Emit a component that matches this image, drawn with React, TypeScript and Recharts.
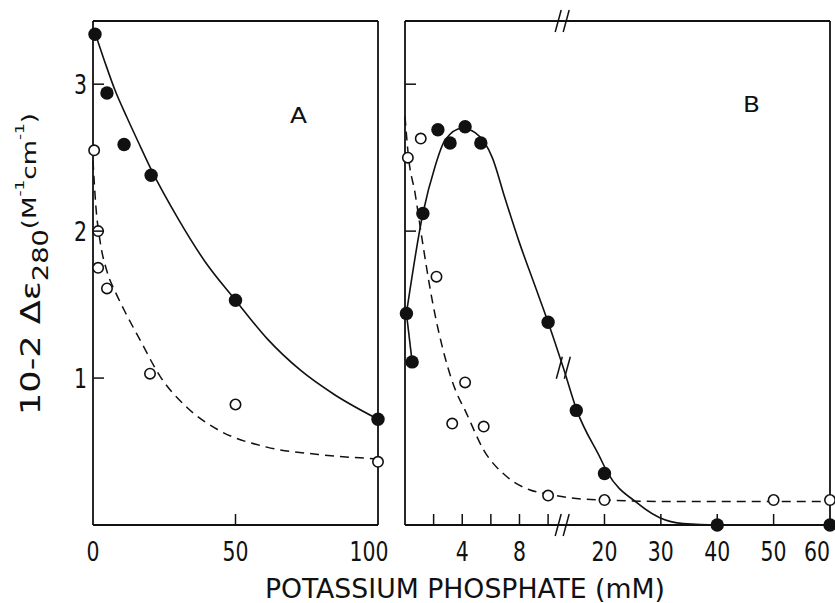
import React from "react";
import { ComposedChart, Line, Scatter, XAxis, YAxis, ReferenceDot, Label } from "recharts";

const FONT = '"DejaVu Sans Condensed", "Liberation Sans Narrow", "DejaVu Sans", sans-serif';
const INK = "#111";
const W = 835;
const H = 603;
const Y_MAX = 3.43;
const yTicksLeftA = [1, 2, 3];
const yTicksRightA = [2, 3];
const yTicksLeftB = [2, 3];
const yTicksRightB = [1, 2, 3];

// panel A, 0-100 mM
const aTicks = [0, 50, 100];
const aTopTicks = [50];
const aFilled = [
  { x: 0.7, y: 3.34 }, { x: 4.9, y: 2.94 }, { x: 10.9, y: 2.59 },
  { x: 20.4, y: 2.38 }, { x: 50, y: 1.53 }, { x: 100, y: 0.72 },
];
const aOpen = [
  { x: 0.4, y: 2.55 }, { x: 1.8, y: 2.0 }, { x: 1.8, y: 1.75 }, { x: 4.9, y: 1.61 },
  { x: 20, y: 1.03 }, { x: 50, y: 0.82 }, { x: 100, y: 0.43 },
];
const aSolid = [
  { x: 0.5, y: 3.36 }, { x: 4, y: 3.16 }, { x: 7.7, y: 2.96 }, { x: 12, y: 2.77 },
  { x: 15.8, y: 2.61 }, { x: 20.4, y: 2.42 }, { x: 30, y: 2.08 }, { x: 39.4, y: 1.79 },
  { x: 50, y: 1.53 }, { x: 61, y: 1.27 }, { x: 73, y: 1.05 }, { x: 84.5, y: 0.89 }, { x: 100, y: 0.72 },
];
const aDashed = [
  { x: 0, y: 2.48 }, { x: 1, y: 2.17 }, { x: 2.5, y: 1.93 }, { x: 5, y: 1.72 },
  { x: 8, y: 1.58 }, { x: 11, y: 1.46 }, { x: 16.5, y: 1.26 }, { x: 23.6, y: 1.01 },
  { x: 33, y: 0.8 }, { x: 43.7, y: 0.65 }, { x: 61, y: 0.53 }, { x: 79, y: 0.48 }, { x: 100, y: 0.45 },
];

// panel B, 0-60 mM, axis broken after 10 mM
const bTicks = [0, 2, 4, 6, 8, 10, 20, 30, 40, 50, 60];
const bTopTicks = [2, 4, 6, 8, 10, 20, 30, 40, 50];
const bLabels = [4, 8, 20, 30, 40, 50, 60];
const bFilled = [
  { x: 0.1, y: 1.44 }, { x: 0.5, y: 1.11 }, { x: 1.25, y: 2.12 }, { x: 2.3, y: 2.69 },
  { x: 3.15, y: 2.6 }, { x: 4.2, y: 2.71 }, { x: 5.3, y: 2.6 }, { x: 10, y: 1.38 },
  { x: 15, y: 0.78 }, { x: 20, y: 0.35 }, { x: 40, y: 0 }, { x: 60, y: 0 },
];
const bOpen = [
  { x: 0.2, y: 2.5 }, { x: 1.1, y: 2.63 }, { x: 2.2, y: 1.69 }, { x: 3.3, y: 0.69 },
  { x: 4.2, y: 0.97 }, { x: 5.5, y: 0.67 }, { x: 10, y: 0.2 }, { x: 20, y: 0.17 },
  { x: 50, y: 0.17 }, { x: 60, y: 0.17 },
];
const bSolidStart = [{ x: 0.5, y: 1.11 }, { x: 0.1, y: 1.44 }];
const bSolid = [
  { x: 0.1, y: 1.44 }, { x: 1.25, y: 2.12 }, { x: 2.1, y: 2.44 }, { x: 2.8, y: 2.62 },
  { x: 4.0, y: 2.7 }, { x: 4.9, y: 2.67 }, { x: 6.1, y: 2.5 }, { x: 7.0, y: 2.22 },
  { x: 8.0, y: 1.92 }, { x: 9.0, y: 1.65 }, { x: 10, y: 1.38 }, { x: 12.7, y: 1.07 },
  { x: 15.1, y: 0.78 }, { x: 19.2, y: 0.46 }, { x: 20.5, y: 0.36 }, { x: 25.8, y: 0.15 },
  { x: 29.8, y: 0.05 }, { x: 34, y: 0.01 }, { x: 40, y: 0 }, { x: 60, y: 0 },
];
const bDashed = [
  { x: 0, y: 2.78 }, { x: 0.25, y: 2.5 }, { x: 0.7, y: 2.26 }, { x: 1.2, y: 1.94 },
  { x: 1.9, y: 1.53 }, { x: 2.8, y: 1.14 }, { x: 3.6, y: 0.9 }, { x: 4.2, y: 0.78 },
  { x: 5.5, y: 0.51 }, { x: 7.1, y: 0.33 }, { x: 8.7, y: 0.24 }, { x: 10, y: 0.21 },
  { x: 15, y: 0.18 }, { x: 20, y: 0.17 }, { x: 30, y: 0.16 }, { x: 60, y: 0.16 },
];
const bBreakMM = 12.5;
const bCurveBreak = { x: 12.7, y: 1.07 };

// 0-10 mM at full scale, 10-60 mM squeezed
const BREAK = 10;
const SQUEEZE = 0.394;
const toU = (mm: number) => (mm <= BREAK ? mm : BREAK + (mm - BREAK) * SQUEEZE);
const fromU = (u: number) => (u <= BREAK ? u : BREAK + (u - BREAK) / SQUEEZE);
const asU = (pts: { x: number; y: number }[]) => pts.map((p) => ({ x: toU(p.x), y: p.y }));

const LEN = 11;
const tickStroke = { stroke: INK, strokeWidth: 1.5 };
const axisLine = { stroke: INK, strokeWidth: 1.8 };

function Digits({ x, y, text, anchor = "middle" }: { x: number; y: number; text: string; anchor?: string }) {
  return (
    <text x={x} y={y} fill={INK} fontFamily={FONT} fontSize={27} textAnchor={anchor as any}
      textLength={text.length * 13} lengthAdjust="spacingAndGlyphs">{text}</text>
  );
}

const aBottomTick = ({ x, y, payload }: any) => {
  const v = payload.value;
  return (
    <g>
      {v > 0 && v < 100 && <line x1={x} y1={y} x2={x} y2={y - LEN} {...tickStroke} />}
      <Digits x={x + (v === 100 ? -9 : 0)} y={y + 36} text={String(v)} />
    </g>
  );
};

const bBottomTick = ({ x, y, payload }: any) => {
  const mm = Math.round(fromU(payload.value));
  return (
    <g>
      {mm > 0 && mm < 60 && <line x1={x} y1={y} x2={x} y2={y - LEN} {...tickStroke} />}
      {bLabels.includes(mm) && <Digits x={x + (mm === 60 ? -13 : 0)} y={y + 36} text={String(mm)} />}
    </g>
  );
};

const topTick = ({ x, y }: any) => <line x1={x} y1={y} x2={x} y2={y + LEN} {...tickStroke} />;
const rightTick = ({ x, y }: any) => <line x1={x} y1={y} x2={x - LEN} y2={y} {...tickStroke} />;
const leftMark = ({ x, y }: any) => <line x1={x} y1={y} x2={x + LEN} y2={y} {...tickStroke} />;
const leftTick = ({ x, y, payload }: any) => (
  <g>
    <line x1={x} y1={y} x2={x + LEN} y2={y} {...tickStroke} />
    <Digits x={x - 6} y={y + 9.5} text={String(payload.value)} anchor="end" />
  </g>
);

const filledDot = (p: any) => <circle cx={p.cx} cy={p.cy} r={6.7} fill={INK} />;
const openDot = (p: any) => <circle cx={p.cx} cy={p.cy} r={5.2} fill="#fff" stroke={INK} strokeWidth={1.6} />;
const slashes = (p: any) => (
  <g {...tickStroke}>
    <line x1={p.cx - 7} y1={p.cy + 11} x2={p.cx - 1} y2={p.cy - 11} />
    <line x1={p.cx + 1} y1={p.cy + 11} x2={p.cx + 7} y2={p.cy - 11} />
  </g>
);
const letter = (s: string) => (p: any) => (
  <text x={p.cx} y={p.cy + 7.5} fill={INK} fontFamily={FONT} fontSize={21} textAnchor="middle"
    textLength={17} lengthAdjust="spacingAndGlyphs">{s}</text>
);

const yTitle = ({ viewBox }: any) => {
  const x = viewBox.x - 52;
  const y = viewBox.y + viewBox.height / 2 - 9;
  return (
    <text x={x} y={y} transform={`rotate(-90, ${x}, ${y})`} fill={INK} fontFamily={FONT} fontSize={27}
      textAnchor="middle" textLength={302} lengthAdjust="spacingAndGlyphs">
      <tspan>10-2 Δε</tspan>
      <tspan fontSize={21} dy={8}>280</tspan>
      <tspan fontSize={20} dy={-12}>(M</tspan>
      <tspan fontSize={13} dy={-12}>-1</tspan>
      <tspan fontSize={20} dy={12}>cm</tspan>
      <tspan fontSize={13} dy={-12}>-1</tspan>
      <tspan fontSize={20} dy={12}>)</tspan>
    </text>
  );
};

const xTitle = () => (
  <text x={465} y={598} fill={INK} fontFamily={FONT} fontSize={27} textAnchor="middle"
    textLength={400} lengthAdjust="spacingAndGlyphs">POTASSIUM  PHOSPHATE  (mM)</text>
);

function PanelA() {
  return (
    <ComposedChart width={W} height={H} margin={{ top: 20, right: 456, bottom: 77, left: 92 }}>
      <XAxis xAxisId="a" type="number" dataKey="x" domain={[0, 100]} ticks={aTicks} interval={0}
        height={1} tickSize={0} tickMargin={0} tickLine={false} axisLine={axisLine} tick={aBottomTick}>
        <Label content={xTitle} />
      </XAxis>
      <XAxis xAxisId="t" orientation="top" type="number" dataKey="x" domain={[0, 100]} ticks={aTopTicks}
        interval={0} height={1} tickSize={0} tickMargin={0} tickLine={false} axisLine={axisLine} tick={topTick} />
      <YAxis yAxisId="l" type="number" dataKey="y" domain={[0, Y_MAX]} ticks={yTicksLeftA} interval={0}
        width={1} tickSize={0} tickMargin={0} tickLine={false} axisLine={axisLine} tick={leftTick}>
        <Label content={yTitle} />
      </YAxis>
      <YAxis yAxisId="r" orientation="right" type="number" domain={[0, Y_MAX]} ticks={yTicksRightA}
        interval={0} width={1} tickSize={0} tickMargin={0} tickLine={false} axisLine={axisLine} tick={rightTick} />
      <Line xAxisId="a" yAxisId="l" data={aSolid} dataKey="y" type="monotone" dot={false}
        stroke={INK} strokeWidth={1.6} isAnimationActive={false} />
      <Line xAxisId="a" yAxisId="l" data={aDashed} dataKey="y" type="monotone" dot={false}
        stroke={INK} strokeWidth={1.5} strokeDasharray="9 6" isAnimationActive={false} />
      <Scatter xAxisId="a" yAxisId="l" data={aOpen} dataKey="y" shape={openDot} isAnimationActive={false} />
      <Scatter xAxisId="a" yAxisId="l" data={aFilled} dataKey="y" shape={filledDot} isAnimationActive={false} />
      <ReferenceDot xAxisId="a" yAxisId="l" x={72.1} y={2.79} r={0} shape={letter("A")} />
    </ComposedChart>
  );
}

function PanelB() {
  const uMax = toU(60);
  return (
    <ComposedChart width={W} height={H} margin={{ top: 20, right: 4, bottom: 77, left: 404 }}>
      <XAxis xAxisId="b" type="number" dataKey="x" domain={[0, uMax]} ticks={bTicks.map(toU)} interval={0}
        height={1} tickSize={0} tickMargin={0} tickLine={false} axisLine={axisLine} tick={bBottomTick} />
      <XAxis xAxisId="t" orientation="top" type="number" dataKey="x" domain={[0, uMax]} ticks={bTopTicks.map(toU)}
        interval={0} height={1} tickSize={0} tickMargin={0} tickLine={false} axisLine={axisLine} tick={topTick} />
      <YAxis yAxisId="l" type="number" dataKey="y" domain={[0, Y_MAX]} ticks={yTicksLeftB} interval={0}
        width={1} tickSize={0} tickMargin={0} tickLine={false} axisLine={axisLine} tick={leftMark} />
      <YAxis yAxisId="r" orientation="right" type="number" domain={[0, Y_MAX]} ticks={yTicksRightB}
        interval={0} width={1} tickSize={0} tickMargin={0} tickLine={false} axisLine={axisLine} tick={rightTick} />
      <Line xAxisId="b" yAxisId="l" data={asU(bSolidStart)} dataKey="y" type="linear" dot={false}
        stroke={INK} strokeWidth={1.6} isAnimationActive={false} />
      <Line xAxisId="b" yAxisId="l" data={asU(bSolid)} dataKey="y" type="monotone" dot={false}
        stroke={INK} strokeWidth={1.6} isAnimationActive={false} />
      <Line xAxisId="b" yAxisId="l" data={asU(bDashed)} dataKey="y" type="monotone" dot={false}
        stroke={INK} strokeWidth={1.5} strokeDasharray="9 6" isAnimationActive={false} />
      <Scatter xAxisId="b" yAxisId="l" data={asU(bOpen)} dataKey="y" shape={openDot} isAnimationActive={false} />
      <Scatter xAxisId="b" yAxisId="l" data={asU(bFilled)} dataKey="y" shape={filledDot} isAnimationActive={false} />
      <ReferenceDot xAxisId="b" yAxisId="l" x={toU(bBreakMM)} y={0} r={0} shape={slashes} />
      <ReferenceDot xAxisId="b" yAxisId="l" x={toU(bBreakMM)} y={Y_MAX} r={0} shape={slashes} />
      <ReferenceDot xAxisId="b" yAxisId="l" x={toU(bCurveBreak.x)} y={bCurveBreak.y} r={0} shape={slashes} />
      <ReferenceDot xAxisId="b" yAxisId="l" x={toU(46.1)} y={2.86} r={0} shape={letter("B")} />
    </ComposedChart>
  );
}

export default function App() {
  return (
    <div style={{ position: "absolute", left: 0, top: 0, width: W, height: H, background: "#fff" }}>
      <div style={{ position: "absolute", left: 0, top: 0 }}><PanelA /></div>
      <div style={{ position: "absolute", left: 0, top: 0 }}><PanelB /></div>
    </div>
  );
}
